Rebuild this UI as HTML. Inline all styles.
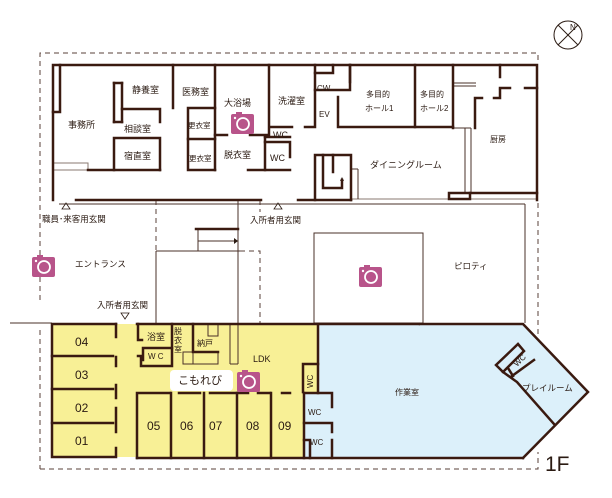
<!DOCTYPE html>
<html><head><meta charset="utf-8"><style>
html,body{margin:0;padding:0;background:#fff;}
svg{display:block;}
text{font-family:"Liberation Sans","Noto Sans CJK JP",sans-serif;fill:#2a1a12;}
</style></head><body>
<svg width="612" height="498" viewBox="0 0 612 498" xmlns="http://www.w3.org/2000/svg">
<defs>
<g id="cam">
<rect x="-11" y="-9" width="23" height="20" rx="2" fill="#b8548a"/>
<rect x="-6" y="-11" width="6" height="3" fill="#b8548a"/>
<circle cx="1" cy="1" r="6" fill="none" stroke="#fff" stroke-width="1.8"/>
<circle cx="-7" cy="-5" r="1.2" fill="#fff"/>
</g>
</defs>
<!-- fills -->
<polygon points="52,324 318,324 318,458 137,458 137,457 52,457" fill="#f8f096"/>
<polygon points="318,324 523,324 588,392 523,458 304,458 304,393 318,393" fill="#dcf0fa"/>

<!-- dashed outer -->
<g fill="none" stroke="#5a4038" stroke-width="1" stroke-dasharray="5,4">
<polyline points="40,300 40,53 538,53 538,64"/>
<line x1="40" y1="330" x2="40" y2="469"/>
<polyline points="40,469 538,469 538,452"/>
<line x1="538" y1="203" x2="538" y2="336"/>
<line x1="156" y1="200" x2="156" y2="251"/>
<line x1="260" y1="200" x2="260" y2="212"/>
<polyline points="240,251 260,251 260,323"/>
</g>

<!-- thin lines -->
<g fill="none" stroke="#4a3028" stroke-width="1">
<line x1="59" y1="204" x2="525" y2="204"/>
<line x1="10" y1="323" x2="52" y2="323"/>
<line x1="156" y1="251" x2="156" y2="323"/>
<line x1="156" y1="251" x2="240" y2="251"/>
<line x1="238" y1="200" x2="238" y2="323"/>
<line x1="198" y1="229" x2="198" y2="251"/>
<line x1="198" y1="241" x2="234" y2="241"/>
<rect x="314" y="233" width="109" height="90"/>
<line x1="525" y1="204" x2="525" y2="323"/>
<rect x="53" y="163" width="35" height="7" stroke="#8a7a70"/>
<line x1="351" y1="199" x2="537" y2="199" stroke="#8a7a70"/>
<line x1="358" y1="169" x2="358" y2="199"/>
<line x1="351" y1="169" x2="358" y2="169"/>
<line x1="453" y1="83" x2="476" y2="83"/><line x1="453" y1="86" x2="476" y2="86"/>
<line x1="465" y1="128" x2="465" y2="193"/><line x1="471" y1="128" x2="471" y2="193"/>
<line x1="453" y1="128" x2="471" y2="128"/>
<line x1="230" y1="324" x2="230" y2="364"/><line x1="238" y1="324" x2="238" y2="364"/><line x1="230" y1="364" x2="238" y2="364"/>
<rect x="183" y="352" width="10" height="12"/><rect x="193" y="352" width="25" height="12"/>
<rect x="208" y="324" width="10" height="12"/>
</g>
<polygon points="234,238 238,241 234,244" fill="#2a1a12"/>
<polygon points="340,181 342,177 344,181" fill="#2a1a12"/>

<!-- thick walls -->
<g fill="none" stroke="#3a1a10" stroke-width="2.5" stroke-linecap="square">
<polyline points="53,200 53,65 537,65 537,200"/>
<line x1="76" y1="200" x2="261" y2="200"/>
<line x1="298" y1="200" x2="351" y2="200"/>
<polyline points="60,65 60,112 53,112"/>
<line x1="114" y1="83" x2="114" y2="122"/><line x1="122" y1="83" x2="122" y2="122"/>
<line x1="114" y1="83" x2="122" y2="83"/><line x1="114" y1="122" x2="122" y2="122"/>
<polyline points="122,109 160,109 160,122"/>
<polyline points="114,170 114,138 160,138 160,170"/>
<line x1="88" y1="170" x2="160" y2="170"/>
<line x1="173" y1="65" x2="173" y2="108"/>
<line x1="215" y1="65" x2="215" y2="170"/>
<polyline points="215,108 188,108 188,170 215,170"/>
<line x1="188" y1="139" x2="215" y2="139"/>
<line x1="215" y1="135" x2="227" y2="135"/>
<polyline points="250,135 269,135 269,65"/>
<line x1="265" y1="137" x2="265" y2="170"/>
<line x1="265" y1="137" x2="290" y2="137"/>
<polyline points="265,142 290,142 290,157"/>
<line x1="248" y1="170" x2="290" y2="170"/>
<line x1="270" y1="127" x2="292" y2="127"/>
<polyline points="305,127 315,127 315,65"/>
<polyline points="315,73 333,73 333,65"/>
<polyline points="315,90 350,90 350,65"/>
<polyline points="338,97 338,127 453,127"/>
<line x1="350" y1="65" x2="350" y2="82"/>
<line x1="415" y1="65" x2="415" y2="127"/>
<line x1="453" y1="65" x2="453" y2="128"/>
<polyline points="475,128 475,98 482,98"/>
<line x1="500" y1="65" x2="500" y2="77"/><polyline points="500,90 500,98 494,98"/>
<line x1="500" y1="88" x2="510" y2="88"/><line x1="525" y1="88" x2="537" y2="88"/>
<rect x="449" y="193" width="21" height="6"/>
<line x1="470" y1="193" x2="537" y2="193"/>
<polyline points="315,200 315,155 351,155 351,200"/>
<polyline points="323,155 323,188 342,188 342,180"/>
<line x1="333" y1="155" x2="333" y2="172"/>
<line x1="196" y1="229" x2="238" y2="229"/>

<!-- yellow building -->
<polyline points="116,324 52,324 52,457 116,457 116,448"/>
<line x1="137" y1="324" x2="318" y2="324"/>
<line x1="52" y1="356" x2="113" y2="356"/>
<line x1="52" y1="389" x2="113" y2="389"/>
<line x1="52" y1="423" x2="113" y2="423"/>
<line x1="116" y1="324" x2="116" y2="337"/>
<line x1="116" y1="357" x2="116" y2="366"/>
<line x1="116" y1="385" x2="116" y2="398"/>
<line x1="116" y1="408" x2="116" y2="432"/>
<polyline points="138,324 138,340 142,340"/>
<polyline points="143,360 143,348 172,348"/>
<polyline points="138,356 141,356 141,366 172,366 172,324"/>
<polyline points="193,324 193,352 218,352"/>
<polyline points="303,392 303,364 318,364"/>
<polyline points="137,458 137,393 170,393"/>
<line x1="179" y1="393" x2="200" y2="393"/>
<line x1="210" y1="393" x2="248" y2="393"/>
<line x1="258" y1="393" x2="270" y2="393"/>
<line x1="282" y1="393" x2="290" y2="393"/>
<line x1="171" y1="393" x2="171" y2="458"/>
<line x1="204" y1="393" x2="204" y2="458"/>
<line x1="237" y1="393" x2="237" y2="458"/>
<line x1="271" y1="393" x2="271" y2="458"/>
<line x1="137" y1="458" x2="523" y2="458"/>
<line x1="318" y1="324" x2="318" y2="393"/>
<polyline points="304,393 332,393 332,407"/>
<line x1="304" y1="393" x2="304" y2="458"/>
<polyline points="304,423 332,423 332,432"/>
<line x1="332" y1="440" x2="332" y2="458"/>
<polyline points="304,440 310,440 310,458"/>
<!-- blue -->
<polyline points="420,324 523,324 588,392 523,458"/>
<polygon points="496,365 518,344 524,351 503,372"/>
<polyline points="503,372 517,382 554,424"/>
<line x1="512" y1="376" x2="534" y2="360"/>
<line x1="508" y1="368" x2="513" y2="376"/>
</g>
<line x1="318" y1="324" x2="420" y2="324" stroke="#3a1a10" stroke-width="2.5"/>

<!-- triangles -->
<g fill="none" stroke="#2a1a12" stroke-width="0.8">
<polygon points="66,203 62,209 70,209"/>
<polygon points="278,203 274,209 282,209"/>
<polygon points="121,313 129,313 125,319"/>
</g>

<!-- compass -->
<g stroke="#2a1a12" fill="none" stroke-width="1">
<circle cx="568" cy="35" r="14"/>
<line x1="558" y1="45" x2="578" y2="25"/>
<line x1="558" y1="25" x2="578" y2="45"/>
</g>
<text x="570" y="30" font-size="8">N</text>

<use href="#cam" x="242" y="123"/>
<use href="#cam" x="43" y="266"/>
<use href="#cam" x="370" y="276"/>
<rect x="170" y="370" width="63" height="21" rx="4" fill="#fff"/>
<use href="#cam" x="248" y="381"/>

<!-- labels -->
<g font-size="9">
<text x="68" y="128">事務所</text>
<text x="132" y="93">静養室</text>
<text x="124" y="132">相談室</text>
<text x="124" y="159">宿直室</text>
<text x="182" y="95">医務室</text>
<text x="224" y="106">大浴場</text>
<text x="278" y="104">洗濯室</text>
<text x="188" y="128" font-size="7.5">更衣室</text>
<text x="189" y="161" font-size="7.5">更衣室</text>
<text x="224" y="158">脱衣室</text>
<text x="273" y="138">WC</text>
<text x="270" y="161">WC</text>
<text x="317" y="91" font-size="8">CW</text>
<text x="319" y="117" font-size="8">EV</text>
<text x="366" y="97" font-size="8">多目的</text>
<text x="365" y="111" font-size="8">ホール1</text>
<text x="420" y="97" font-size="8">多目的</text>
<text x="420" y="111" font-size="8">ホール2</text>
<text x="490" y="142" font-size="8">厨房</text>
<text x="370" y="168">ダイニングルーム</text>
<text x="42" y="222" font-size="8.5">職員･来客用玄関</text>
<text x="250" y="223" font-size="8.5">入所者用玄関</text>
<text x="75" y="267" font-size="8.5">エントランス</text>
<text x="454" y="269" font-size="8.5">ピロティ</text>
<text x="97" y="308" font-size="8.5">入所者用玄関</text>
<text x="147" y="340">浴室</text>
<text x="174" y="334" font-size="8">脱</text>
<text x="174" y="343" font-size="8">衣</text>
<text x="174" y="352" font-size="8">室</text>
<text x="197" y="346" font-size="8">納戸</text>
<text x="148" y="359" font-size="8">W C</text>
<text x="253" y="362">LDK</text>
<text x="178" y="384" font-size="11">こもれび</text>
<text x="395" y="395" font-size="8">作業室</text>
<text x="522" y="391" font-size="8.5">プレイルーム</text>
<text x="308" y="415" font-size="8">WC</text>
<text x="310" y="445" font-size="8">WC</text>
<text transform="translate(313,388) rotate(-90)" font-size="8">WC</text>
<text transform="translate(517,367) rotate(-45)" font-size="8">WC</text>
</g>
<g font-size="12">
<text x="75" y="346">04</text>
<text x="75" y="379">03</text>
<text x="75" y="412">02</text>
<text x="75" y="445">01</text>
<text x="147" y="430">05</text>
<text x="180" y="430">06</text>
<text x="209" y="430">07</text>
<text x="246" y="430">08</text>
<text x="278" y="430">09</text>
</g>
<text x="545" y="471" font-size="21">1F</text>
</svg>
</body></html>
